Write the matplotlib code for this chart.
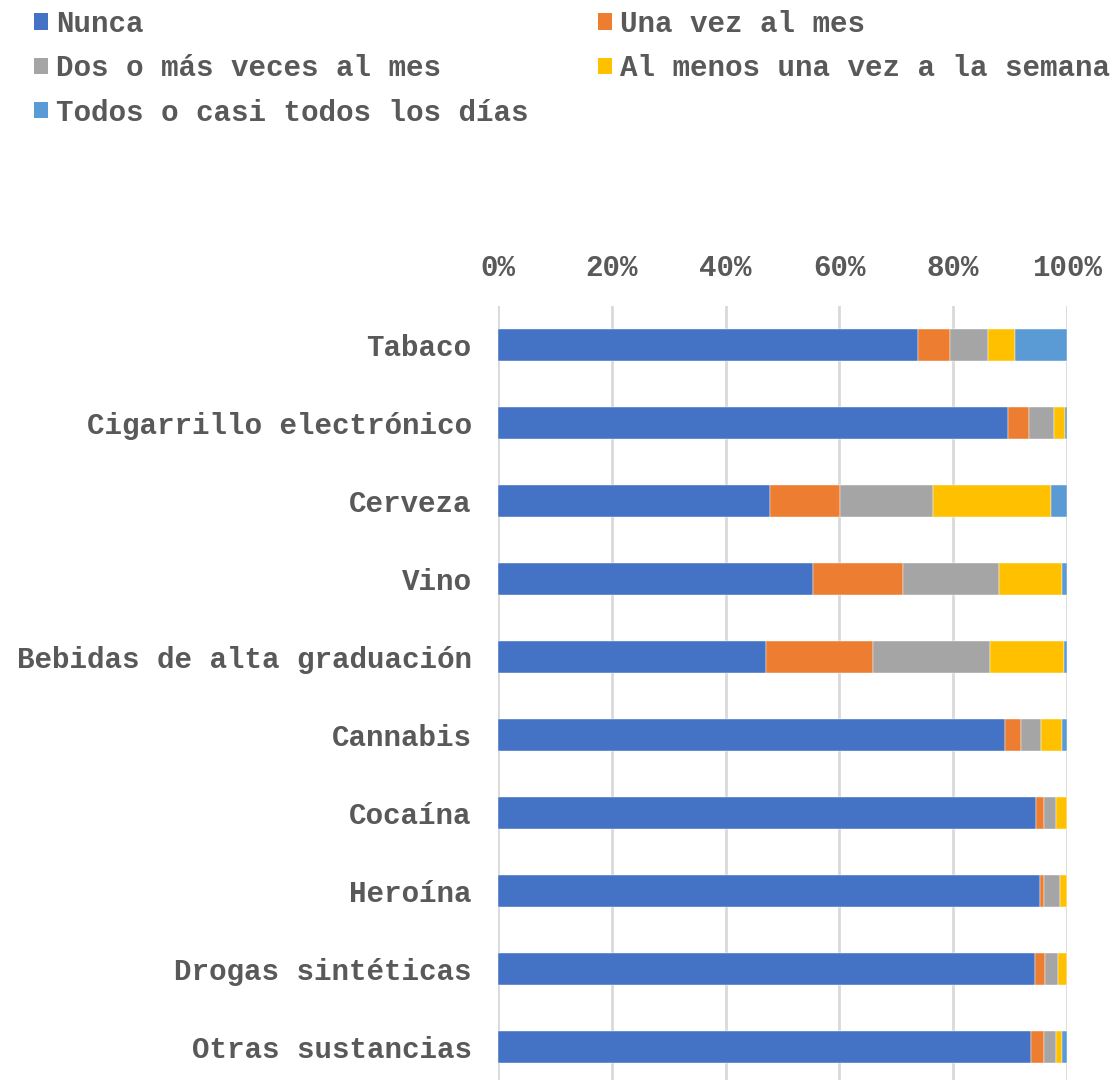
import matplotlib
matplotlib.use("Agg")
import matplotlib.pyplot as plt
from matplotlib.patches import Patch
import numpy as np

categories = ["Tabaco", "Cigarrillo electrónico", "Cerveza", "Vino",
              "Bebidas de alta graduación", "Cannabis", "Cocaína", "Heroína",
              "Drogas sintéticas", "Otras sustancias"]
series_names = ["Nunca", "Una vez al mes", "Dos o más veces al mes",
                "Al menos una vez a la semana", "Todos o casi todos los días"]
nunca       = [73.9, 89.7, 47.8, 55.4, 47.1, 89.1, 94.6, 95.3, 94.4, 93.7]
una_vez     = [5.6, 3.7, 12.3, 15.7, 18.8, 2.9, 1.4, 0.7, 1.7, 2.3]
dos_o_mas   = [6.7, 4.4, 16.3, 17.0, 20.6, 3.4, 2.1, 2.7, 2.3, 2.0]
al_menos    = [4.7, 1.9, 20.8, 11.1, 13.0, 3.8, 1.9, 1.3, 1.6, 1.1]
todos       = [9.1, 0.3, 2.8, 0.8, 0.5, 0.8, 0.0, 0.0, 0.0, 0.9]
colors = ["#4472C4", "#ED7D31", "#A5A5A5", "#FFC000", "#5B9BD5"]
xticks = [0, 20, 40, 60, 80, 100]
xtick_labels = ["0%", "20%", "40%", "60%", "80%", "100%"]

FONT = "Liberation Mono"
TXT = "#595959"
FS = 21.1

fig = plt.figure(figsize=(11.16, 10.8), dpi=100)
W, H = 1116, 1080
x0, x1 = 498, 1067
ytop, ybot = 306, 1086
ax = fig.add_axes([x0 / W, 1 - ybot / H, (x1 - x0) / W, (ybot - ytop) / H])

data = [nunca, una_vez, dos_o_mas, al_menos, todos]
y = np.arange(len(categories))
left = np.zeros(len(categories))
for vals, name, c in zip(data, series_names, colors):
    v = np.array(vals)
    ax.barh(y, v, left=left, height=0.4, color=c, label=name, zorder=3,
            edgecolor="white", linewidth=0.3)
    left += v

ax.set_xlim(0, 100)
ax.set_ylim(len(categories) - 0.5, -0.5)
ax.set_yticks(y)
ax.set_yticklabels(categories, fontfamily=FONT, fontweight="bold", fontsize=FS, color=TXT)
ax.set_xticks(xticks)
ax.set_xticklabels(xtick_labels, fontfamily=FONT, fontweight="bold", fontsize=FS, color=TXT)
ax.xaxis.tick_top()
ax.tick_params(axis="x", length=0, pad=17)
ax.tick_params(axis="y", length=0, pad=19)
ax.grid(axis="x", color="#D9D9D9", linewidth=2, zorder=0)
ax.set_axisbelow(True)
for s in ax.spines.values():
    s.set_visible(False)

handles = [Patch(facecolor=c) for c in colors]
order = [0, 2, 4, 1, 3]
leg = fig.legend([handles[i] for i in order], [series_names[i] for i in order],
                 loc="upper left", bbox_to_anchor=(28 / W, 1 - 4 / H), ncol=2,
                 frameon=False, handlelength=0.48, handleheight=0.48,
                 handletextpad=0.28, columnspacing=2.35, labelspacing=0.56,
                 borderaxespad=0, borderpad=0.2,
                 prop={"family": FONT, "weight": "bold", "size": FS})
for t in leg.get_texts():
    t.set_color(TXT)

fig.savefig("out.png", dpi=100)
